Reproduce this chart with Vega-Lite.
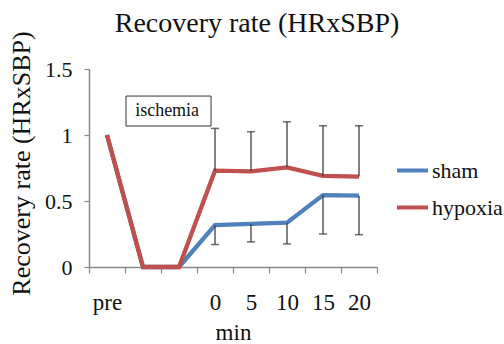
{
  "$schema": "https://vega.github.io/schema/vega-lite/v6.json",
  "width": 288,
  "height": 198,
  "autosize": {"type": "none"},
  "padding": {"left": 89, "top": 69, "right": 127, "bottom": 77},
  "background": "white",
  "title": {"text": "Recovery rate (HRxSBP)", "font": "Liberation Serif", "fontSize": 28, "fontWeight": "normal", "color": "#111111", "anchor": "middle", "frame": "group", "dx": 24, "offset": -7},
  "config": {"view": {"stroke": null}, "font": "Liberation Serif"},
  "datasets": {
    "series": [
      {"t": "pre", "group": "sham", "value": 1.0},
      {"t": "i1", "group": "sham", "value": 0},
      {"t": "i2", "group": "sham", "value": 0},
      {"t": "0", "group": "sham", "value": 0.318},
      {"t": "5", "group": "sham", "value": 0.326},
      {"t": "10", "group": "sham", "value": 0.336},
      {"t": "15", "group": "sham", "value": 0.545},
      {"t": "20", "group": "sham", "value": 0.54},
      {"t": "pre", "group": "hypoxia", "value": 1.0},
      {"t": "i1", "group": "hypoxia", "value": 0},
      {"t": "i2", "group": "hypoxia", "value": 0},
      {"t": "0", "group": "hypoxia", "value": 0.73},
      {"t": "5", "group": "hypoxia", "value": 0.725},
      {"t": "10", "group": "hypoxia", "value": 0.755},
      {"t": "15", "group": "hypoxia", "value": 0.69},
      {"t": "20", "group": "hypoxia", "value": 0.685}
    ],
    "errors": [
      {"t": "0", "group": "hypoxia", "lo": 0.73, "hi": 1.05, "cap": 1.05},
      {"t": "5", "group": "hypoxia", "lo": 0.725, "hi": 1.025, "cap": 1.025},
      {"t": "10", "group": "hypoxia", "lo": 0.755, "hi": 1.1, "cap": 1.1},
      {"t": "15", "group": "hypoxia", "lo": 0.69, "hi": 1.07, "cap": 1.07},
      {"t": "20", "group": "hypoxia", "lo": 0.685, "hi": 1.07, "cap": 1.07},
      {"t": "0", "group": "sham", "lo": 0.17, "hi": 0.318, "cap": 0.17},
      {"t": "5", "group": "sham", "lo": 0.19, "hi": 0.326, "cap": 0.19},
      {"t": "10", "group": "sham", "lo": 0.175, "hi": 0.336, "cap": 0.175},
      {"t": "15", "group": "sham", "lo": 0.25, "hi": 0.545, "cap": 0.25},
      {"t": "20", "group": "sham", "lo": 0.245, "hi": 0.54, "cap": 0.245}
    ],
    "note": [
      {"label": "ischemia", "x1": 1.028, "x2": 3.39, "y1": 1.068, "y2": 1.295, "tx": 2.17, "ty": 1.18}
    ]
  },
  "layer": [
    {
      "encoding": {
        "x": {
          "field": "t", "type": "nominal",
          "scale": {"type": "band", "domain": ["pre", "i1", "i2", "0", "5", "10", "15", "20"], "paddingInner": 0, "paddingOuter": 0},
          "axis": {
            "title": "min", "tickBand": "extent", "labelAngle": 0,
            "labelExpr": "datum.value == 'i1' || datum.value == 'i2' ? '' : datum.value",
            "labelFont": "Liberation Serif", "labelFontSize": 23, "labelColor": "#111111", "labelPadding": 18,
            "tickSize": 6, "tickColor": "#888888", "domainColor": "#888888", "tickWidth": 1.2, "domainWidth": 1.5,
            "titleFont": "Liberation Serif", "titleFontSize": 23, "titleFontWeight": "normal", "titleColor": "#111111", "titlePadding": 7
          }
        },
        "y": {
          "type": "quantitative",
          "scale": {"domain": [0, 1.5], "nice": false},
          "axis": {
            "title": "Recovery rate (HRxSBP)", "values": [0, 0.5, 1, 1.5], "format": "~g", "grid": false,
            "labelFont": "Liberation Serif", "labelFontSize": 22, "labelColor": "#111111", "labelPadding": 12,
            "tickSize": 5, "tickColor": "#888888", "domainColor": "#888888", "tickWidth": 1.2, "domainWidth": 1.5,
            "titleFont": "Liberation Serif", "titleFontSize": 26, "titleFontWeight": "normal", "titleColor": "#111111", "titlePadding": 10, "titleY": 94
          }
        }
      },
      "layer": [
        {
          "data": {"name": "series"},
          "transform": [{"filter": "datum.group == 'sham'"}],
          "mark": {"type": "line", "strokeWidth": 4.3},
          "encoding": {
            "y": {"field": "value"},
            "color": {"field": "group", "type": "nominal",
              "scale": {"domain": ["sham", "hypoxia"], "range": ["#4F81BD", "#C0504D"]},
              "legend": {"title": null, "orient": "none", "legendX": 306, "legendY": 84, "symbolType": "stroke", "symbolSize": 961, "symbolStrokeWidth": 4, "labelFont": "Liberation Serif", "labelFontSize": 22, "labelColor": "#111111", "labelOffset": 2, "rowPadding": 8, "padding": 0}
            }
          }
        },
        {
          "data": {"name": "series"},
          "transform": [{"filter": "datum.group == 'hypoxia'"}],
          "mark": {"type": "line", "strokeWidth": 4.3},
          "encoding": {
            "y": {"field": "value"},
            "color": {"field": "group", "type": "nominal"}
          }
        },
        {
          "data": {"name": "errors"},
          "mark": {"type": "rule", "color": "#404040", "strokeWidth": 1.3},
          "encoding": {"y": {"field": "lo"}, "y2": {"field": "hi"}}
        },
        {
          "data": {"name": "errors"},
          "mark": {"type": "tick", "color": "#303030", "size": 8, "thickness": 1.5, "orient": "horizontal"},
          "encoding": {"y": {"field": "cap"}}
        }
      ]
    },
    {
      "data": {"name": "note"},
      "encoding": {
        "y": {"type": "quantitative"}
      },
      "layer": [
        {
          "mark": {"type": "rect", "fill": "white", "stroke": "#333333", "strokeWidth": 1},
          "encoding": {
            "x": {"field": "x1", "type": "quantitative", "scale": {"domain": [0, 8], "nice": false, "zero": false}, "axis": null},
            "x2": {"field": "x2"},
            "y": {"field": "y1", "type": "quantitative"},
            "y2": {"field": "y2"}
          }
        },
        {
          "mark": {"type": "text", "font": "Liberation Serif", "fontSize": 18, "color": "#111111", "align": "center", "baseline": "middle"},
          "encoding": {
            "x": {"field": "tx", "type": "quantitative", "scale": {"domain": [0, 8], "nice": false, "zero": false}, "axis": null},
            "y": {"field": "ty", "type": "quantitative"},
            "text": {"field": "label"}
          }
        }
      ]
    }
  ],
  "resolve": {"scale": {"x": "independent"}}
}
